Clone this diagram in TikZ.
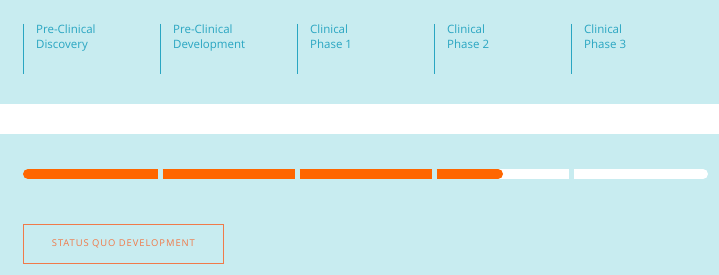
\documentclass[tikz,border=0pt]{standalone}
\usepackage{fontspec}
\usetikzlibrary{calc}
\setmainfont{Open Sans}
\newfontfamily\btnfont[LetterSpace=10]{Open Sans}
\definecolor{bgc}{HTML}{C8ECF0}
\definecolor{tealc}{HTML}{2AA6C2}
\definecolor{orangec}{HTML}{FF6600}
\definecolor{btnc}{HTML}{F07A4A}
\begin{document}
\begin{tikzpicture}[x=1pt,y=-1pt,
  phase/.style={anchor=north west,align=left,font=\fontsize{11.5}{14.5}\selectfont,text=tealc,inner sep=0pt},
  divider/.style={draw=tealc,line width=1pt},
  seg/.style={line width=10pt,draw=orangec},
  wseg/.style={line width=10pt,draw=white}]
\useasboundingbox (0,0) rectangle (719,275);
\fill[bgc] (0,0) rectangle (719,275);
\fill[white] (0,104) rectangle (719,134);
% dividers and labels
\foreach \i/\x/\t in {1/23/{Pre-Clinical\\Discovery},2/160/{Pre-Clinical\\Development},3/297/{Clinical\\Phase 1},4/434/{Clinical\\Phase 2},5/571/{Clinical\\Phase 3}}{
  \coordinate (d\i t) at (\x,24);
  \coordinate (d\i b) at (\x,74);
  \draw[divider] (d\i t) -- (d\i b);
  \node[phase] (l\i) at (\x+13,25) {\t};
}
% progress bar
\coordinate (o1a) at (28,174); \coordinate (o1b) at (157.5,174);
\coordinate (o2a) at (162.5,174); \coordinate (o2b) at (294.5,174);
\coordinate (o3a) at (299.5,174); \coordinate (o3b) at (431.5,174);
\coordinate (o4a) at (436.5,174); \coordinate (o4b) at (498,174);
\coordinate (w1a) at (498,174); \coordinate (w1b) at (569,174);
\coordinate (w2a) at (574,174); \coordinate (w2b) at (703,174);
\draw[wseg] (w1a) -- (w1b);
\draw[wseg] (w2a) -- (w2b);
\draw[wseg,line cap=round] ($(w2b)+(-1,0)$) -- (w2b);
\draw[seg,line cap=round] (o1a) -- ($(o1a)+(1,0)$);
\draw[seg] (o1a) -- (o1b);
\draw[seg] (o2a) -- (o2b);
\draw[seg] (o3a) -- (o3b);
\draw[seg] (o4a) -- (o4b);
\draw[seg,line cap=round] ($(o4b)+(-1,0)$) -- (o4b);
% button
\node[draw=btnc,line width=0.8pt,minimum width=200pt,minimum height=39pt,anchor=north west,inner sep=0pt,
  font=\btnfont\fontsize{9.4}{11}\selectfont,text=btnc] (btn) at (23,223.5) {STATUS QUO DEVELOPMENT};
\end{tikzpicture}
\end{document}
